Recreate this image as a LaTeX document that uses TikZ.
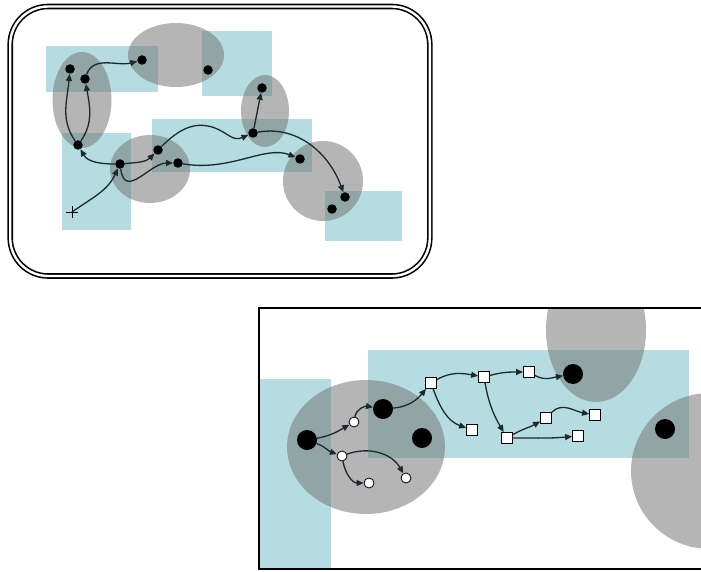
\documentclass[tikz,border=0pt]{standalone}
\usetikzlibrary{arrows.meta}
\definecolor{cyanbox}{RGB}{180,220,225}
\definecolor{zone}{RGB}{115,115,115}
\definecolor{edgec}{RGB}{28,42,46}
\tikzset{
  region/.style={fill=cyanbox, draw=none},
  zoneell/.style={fill=zone, fill opacity=0.53, draw=none},
  dot/.style={circle, fill=black, inner sep=0pt, minimum size=9.5pt},
  bigdot/.style={circle, fill=black, inner sep=0pt, minimum size=20pt},
  wdot/.style={circle, fill=white, draw=black, line width=0.8pt, inner sep=0pt, minimum size=10pt},
  wsq/.style={rectangle, fill=white, draw=black, line width=0.8pt, inner sep=0pt, minimum size=11pt},
  link/.style={draw=edgec, line width=1.3pt, -{Triangle[length=7pt,width=6pt]}},
}
\begin{document}
\begin{tikzpicture}[x=1pt,y=-1pt]
\useasboundingbox (0,0) rectangle (701,572);
\clip (0,0) rectangle (701,572);
% ---------- top panel ----------
\fill[region] (46,46) rectangle (158,92);
\fill[region] (202,31) rectangle (272,96);
\fill[region] (62,133) rectangle (131,230);
\fill[region] (152,119) rectangle (312,172);
\fill[region] (325,191) rectangle (402,241);
\fill[zoneell] (82,100) ellipse [x radius=29.5, y radius=48];
\fill[zoneell] (176,55) ellipse [x radius=48, y radius=32];
\fill[zoneell] (150,169) ellipse [x radius=40, y radius=34];
\fill[zoneell] (265,111) ellipse [x radius=24, y radius=36];
\fill[zoneell] (323,181) ellipse [x radius=40, y radius=40];
\draw[black, line width=1.6pt, double=white, double distance=2.4pt, rounded corners=38pt]
  (10.2,6.5) rectangle (429.8,276);
\node[dot] (d1) at (70,69) {};
\node[dot] (d2) at (85,79) {};
\node[dot] (d3) at (142,60) {};
\node[dot] (d4) at (208,70) {};
\node[dot] (d5) at (262,88) {};
\node[dot] (d6) at (78,145) {};
\node[dot] (d7) at (120,164) {};
\node[dot] (d8) at (158,150) {};
\node[dot] (d9) at (178,163) {};
\node[dot] (d10) at (253,133) {};
\node[dot] (d11) at (300,159) {};
\node[dot] (d12) at (345,197) {};
\node[dot] (d13) at (332,209) {};
\coordinate (cross) at (72,212);
\draw[black, line width=1pt] (66,212) -- (78,212) (72,206) -- (72,218);
\draw[link] (cross) to[out=35,in=-115] (d7);
\draw[link] (d7) to[out=180,in=-60] (d6);
\draw[link] (d6) to[out=125,in=-95] (d1);
\draw[link] (d6) to[out=55,in=-80] (d2);
\draw[link] (d2) to[out=70,in=195] (d3);
\draw[link] (d7) to[out=5,in=225] (d8);
\draw[link] (d7) .. controls (125,200) and (150,163) .. (d9);
\draw[link] (d8) .. controls (180,128) and (195,122) .. (212,127)
                 .. controls (228,132) and (232,142) .. (d10);
\draw[link] (d10) -- (d5);
\draw[link] (d9) .. controls (230,172) and (265,145) .. (d11);
\draw[link] (d10) to[out=10,in=110] (d12);
% ---------- bottom panel ----------
\fill[region] (259,379) rectangle (331,569);
\fill[region] (368,350) rectangle (689,458);
\fill[zoneell] (366,447) ellipse [x radius=79, y radius=67];
\begin{scope}
\clip (259,308) rectangle (710,569);
\fill[zoneell] (596,330) ellipse [x radius=50, y radius=72];
\fill[zoneell] (710,471) ellipse [x radius=79, y radius=78];
\end{scope}
\draw[black, line width=1.2pt] (259,308) rectangle (710,569);
\node[bigdot] (g1) at (307,440) {};
\node[bigdot] (g2) at (383,409) {};
\node[bigdot] (g3) at (422,438) {};
\node[bigdot] (g4) at (573,374) {};
\node[bigdot] (g5) at (665,429) {};
\node[wdot] (w1) at (354,422) {};
\node[wdot] (w2) at (342,456) {};
\node[wdot] (w3) at (369,483) {};
\node[wdot] (w4) at (406,478) {};
\node[wsq] (s1) at (431,383) {};
\node[wsq] (s2) at (484,377) {};
\node[wsq] (s3) at (529,372) {};
\node[wsq] (s4) at (472,430) {};
\node[wsq] (s5) at (507,438) {};
\node[wsq] (s6) at (546,418) {};
\node[wsq] (s7) at (595,415) {};
\node[wsq] (s8) at (578,436) {};
\draw[link] (g1) to[out=10,in=210] (w1);
\draw[link] (w1) to[out=80,in=170] (g2);
\draw[link] (g1) to[out=-20,in=160] (w2);
\draw[link] (w2) to[out=-80,in=180] (w3);
\draw[link] (w2) to[out=20,in=120] (w4);
\draw[link] (g2) to[out=5,in=230] (s1);
\draw[link] (s1) to[out=30,in=170] (s2);
\draw[link] (s1) to[out=-70,in=160] (s4);
\draw[link] (s2) to[out=15,in=180] (s3);
\draw[link] (s3) to[out=-30,in=190] (g4);
\draw[link] (s2) to[out=-80,in=120] (s5);
\draw[link] (s5) to[out=30,in=210] (s6);
\draw[link] (s6) to[out=45,in=170] (s7);
\draw[link] (s5) to[out=0,in=185] (s8);
\end{tikzpicture}
\end{document}
